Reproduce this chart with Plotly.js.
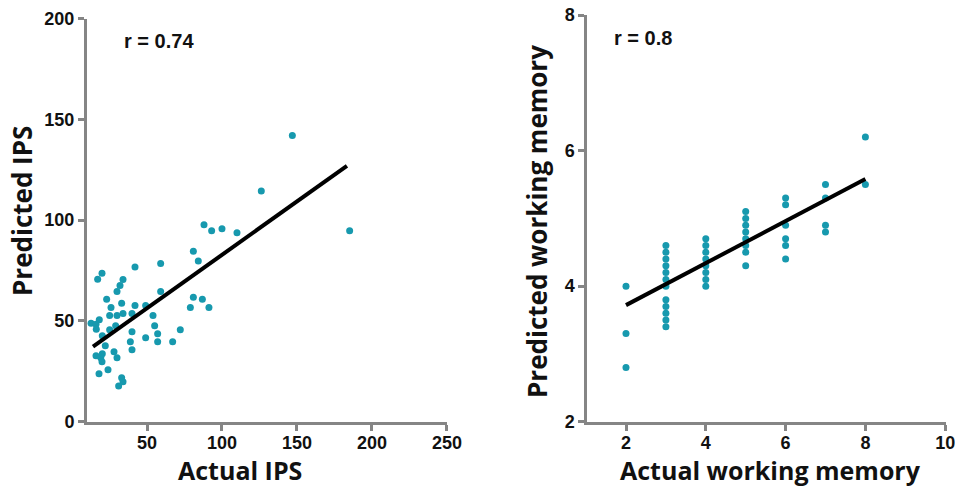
<!DOCTYPE html>
<html>
<head>
<meta charset="utf-8">
<script src="https://cdn.plot.ly/plotly-3.0.1.min.js"></script>
<style>html,body{margin:0;padding:0;background:#fff}#chart{width:955px;height:487px}</style>
</head>
<body>
<div id="chart"></div>
<script>
// Left panel: Actual vs predicted IPS
const ipsActual = [146.9,126.2,185.1,88,93.1,100,110,80.9,84.2,59.1,42,20,17.1,34,32,30,59.1,80.9,86.9,91.3,78.9,23.1,26,33.1,42,49.1,25.1,30,34,40,54,55.1,57.1,57.1,67.1,72.2,49.1,40,38.9,40,12.7,16,18.2,16.2,20.2,25.1,29.1,22.2,28,30,16,19.2,20.2,20,24,18,33.1,34,31.1];
const ipsPredicted = [142,114.5,94.7,97.7,94.7,95.7,93.7,84.6,79.7,78.5,76.7,73.6,70.7,70.6,67.6,64.6,64.6,61.7,60.7,56.7,56.7,60.7,56.7,58.7,57.7,57.7,52.7,52.7,53.7,53.7,52.7,47.6,43.6,39.7,39.7,45.6,41.7,44.6,39.7,35.7,48.8,48.3,50.6,45.8,42.6,45.6,47.6,37.7,34.7,31.7,32.7,31.7,33.7,29.8,25.8,23.8,21.8,19.8,17.7];
const ipsFitX = [14, 183.3];
const ipsFitY = [37.2, 126.9];
const ipsR = "r = 0.74";
const ipsXTitle = "Actual IPS";
const ipsYTitle = "Predicted IPS";

// Right panel: Actual vs predicted working memory
const wmActual = [2,2,2, 3,3,3,3,3,3,3,3,3,3,3,3, 4,4,4,4,4,4,4,4, 5,5,5,5,5,5,5,5, 6,6,6,6,6,6, 7,7,7,7, 8,8];
const wmPredicted = [4.0,3.3,2.8, 4.6,4.5,4.4,4.3,4.2,4.1,4.0,3.8,3.7,3.6,3.5,3.4, 4.7,4.6,4.5,4.4,4.3,4.2,4.1,4.0, 5.1,5.0,4.9,4.8,4.7,4.6,4.5,4.3, 5.3,5.2,4.9,4.7,4.6,4.4, 5.5,5.3,4.9,4.8, 6.2,5.5];
const wmFitX = [2, 8];
const wmFitY = [3.72, 5.58];
const wmR = "r = 0.8";
const wmXTitle = "Actual working memory";
const wmYTitle = "Predicted working memory";

const ipsXTicks = [50,100,150,200,250];
const ipsYTicks = [0,50,100,150,200];
const wmXTicks = [2,4,6,8,10];
const wmYTicks = [2,4,6,8];

const W = 955, H = 487;
const teal = '#1799ae';
const axisGray = '#858585';
const tickFont = {family: 'Liberation Sans, Arial, sans-serif', size: 18, color: '#111', weight: 'bold'};
const titleFontY = {family: 'Open Sans, sans-serif', size: 26, color: '#111', weight: 'bold'};
const titleFontX = {family: 'Open Sans, sans-serif', size: 25, color: '#111', weight: 'bold'};
const rFont = {family: 'Liberation Sans, Arial, sans-serif', size: 20, color: '#111', weight: 'bold'};

const traces = [
  {x: ipsActual, y: ipsPredicted, type: 'scatter', mode: 'markers', xaxis: 'x', yaxis: 'y',
   marker: {color: teal, size: 7}},
  {x: ipsFitX, y: ipsFitY, type: 'scatter', mode: 'lines', xaxis: 'x', yaxis: 'y',
   line: {color: '#000', width: 4}},
  {x: wmActual, y: wmPredicted, type: 'scatter', mode: 'markers', xaxis: 'x2', yaxis: 'y2',
   marker: {color: teal, size: 7}},
  {x: wmFitX, y: wmFitY, type: 'scatter', mode: 'lines', xaxis: 'x2', yaxis: 'y2',
   line: {color: '#000', width: 4}}
];

function axisBase(extra) {
  return Object.assign({
    showline: true, linecolor: axisGray, linewidth: 3, showgrid: false, zeroline: false,
    ticks: 'outside', ticklen: 6, tickwidth: 3, tickcolor: axisGray, tickfont: tickFont,
    mirror: false, automargin: false, ticklabeloverflow: 'allow'
  }, extra);
}

function pTitle(text, px, py, angle, font) {
  return {text: text, x: px / W, y: 1 - py / H, xref: 'paper', yref: 'paper', borderpad: 0,
    xanchor: 'center', yanchor: 'middle', showarrow: false, textangle: angle || 0, font: font};
}

const layout = {
  width: W, height: H,
  margin: {l: 0, r: 0, t: 0, b: 0},
  paper_bgcolor: '#fff', plot_bgcolor: '#fff',
  showlegend: false,
  xaxis: axisBase({domain: [87/W, 447/W], range: [10, 250.01], tickvals: ipsXTicks, anchor: 'y', ticklabelstandoff: -3}),
  yaxis: axisBase({domain: [1-421.7/H, 1-18.5/H], range: [0, 200.01], tickvals: ipsYTicks, anchor: 'x'}),
  xaxis2: axisBase({domain: [587.3/W, 946/W], range: [1.03, 10.02], tickvals: wmXTicks, anchor: 'y2', ticklabelstandoff: -3}),
  yaxis2: axisBase({domain: [1-421.7/H, 1-15/H], range: [2, 8.001], tickvals: wmYTicks, anchor: 'x2'}),
  annotations: [
    {text: ipsR, x: 33.5, y: 189, xref: 'x', yref: 'y', xanchor: 'left', yanchor: 'middle', showarrow: false, font: rFont},
    {text: wmR, x: 1.65, y: 7.66, xref: 'x2', yref: 'y2', xanchor: 'left', yanchor: 'middle', showarrow: false, font: rFont},
    pTitle(ipsXTitle, 240, 470, 0, titleFontX),
    pTitle(ipsYTitle, 22, 211, -90, titleFontY),
    pTitle(wmXTitle, 770, 470, 0, titleFontX),
    pTitle(wmYTitle, 537, 222, -90, titleFontY)
  ]
};

Plotly.newPlot('chart', traces, layout, {displayModeBar: false, staticPlot: true});
</script>
</body>
</html>
